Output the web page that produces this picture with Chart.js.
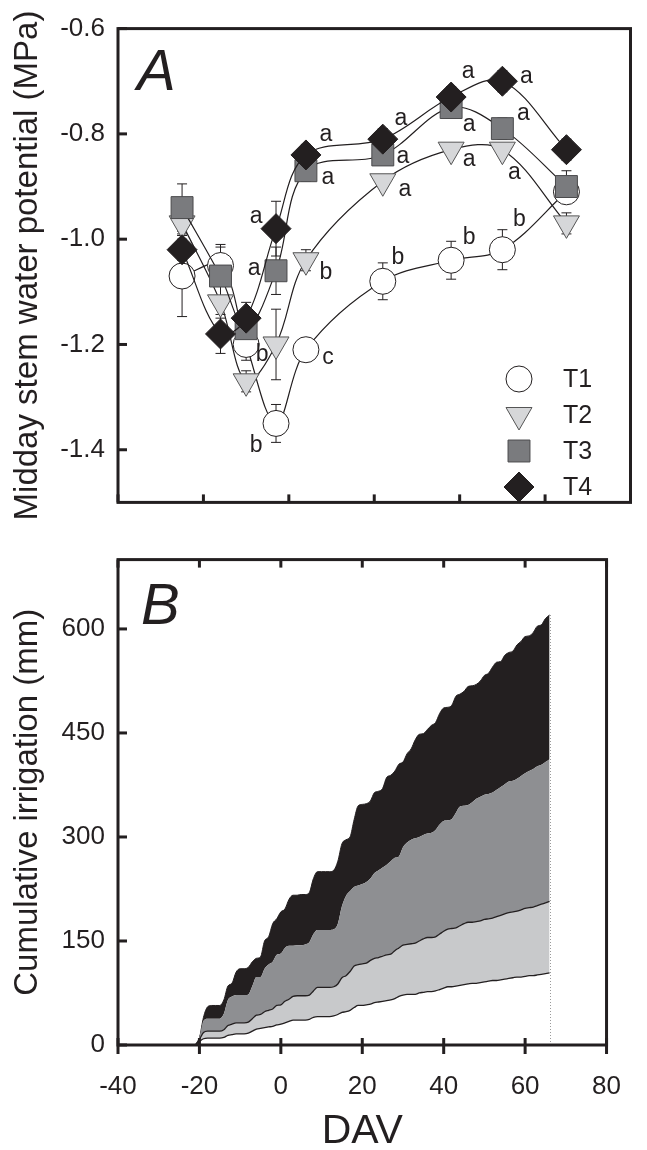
<!DOCTYPE html>
<html>
<head>
<meta charset="utf-8">
<script src="https://cdn.jsdelivr.net/npm/chart.js@4.4.1/dist/chart.umd.min.js"></script>
<style>
  html, body { margin: 0; padding: 0; background: #fff; }
  #wrap { position: relative; width: 647px; height: 1150px; }
  #boxA { position: absolute; left: 0; top: 0; width: 647px; height: 531px; }
  #boxB { position: absolute; left: 0; top: 531px; width: 647px; height: 619px; }
</style>
</head>
<body>
<div id="wrap">
  <div id="boxA"><canvas id="chartA"></canvas></div>
  <div id="boxB"><canvas id="chartB"></canvas></div>
</div>
<script>
// --- data, panel A: midday stem water potential (MPa) ---
const davA = [-25, -16, -10, -3, 4, 22, 38, 50, 65];
const swpT1 = [-1.07, -1.05, -1.20, -1.35, -1.21, -1.08, -1.04, -1.02, -0.91];
const swpT2 = [-0.97, -1.12, -1.27, -1.20, -1.04, -0.89, -0.83, -0.83, -0.97];
const swpT3 = [-0.94, -1.07, -1.17, -1.06, -0.87, -0.84, -0.75, -0.79, -0.90];
const swpT4 = [-1.02, -1.18, -1.15, -0.98, -0.84, -0.81, -0.73, -0.70, -0.83];
const errT1 = [0.077, 0.035, 0.03, 0.036, 0.01, 0.035, 0.036, 0.038, 0.02];
const errT2 = [0.02, 0.03, 0.02, 0.067, 0.02, 0.01, 0.01, 0.01, 0.02];
const errT3 = [0.045, 0.06, 0.02, 0.045, 0.02, 0.02, 0.02, 0.02, 0.03];
const errT4 = [0.02, 0.037, 0.03, 0.052, 0.02, 0.02, 0.02, 0.02, 0.02];
const letT1 = ['', '', 'b', 'b', 'c', 'b', 'b', 'b', ''];
const letT2 = ['', '', '', '', 'b', 'a', 'a', 'a', ''];
const letT3 = ['', '', '', 'a', 'a', 'a', 'a', 'a', ''];
const letT4 = ['', '', '', 'a', 'a', 'a', 'a', 'a', ''];

// --- data, panel B: cumulative irrigation (mm) ---
const davB = [-21, -20, -19, -18, -17, -16, -15, -14, -13, -12,
              -11, -10, -9, -8, -7, -6, -5, -4, -3, -2,
              -1, 0, 1, 2, 3, 4, 5, 6, 7, 8,
              9, 10, 11, 12, 13, 14, 15, 16, 17, 18,
              19, 20, 21, 22, 23, 24, 25, 26, 27, 28,
              29, 30, 31, 32, 33, 34, 35, 36, 37, 38,
              39, 40, 41, 42, 43, 44, 45, 46, 47, 48,
              49, 50, 51, 52, 53, 54, 55, 56, 57, 58,
              59, 60, 61, 62, 63, 64, 65, 66];
const irrT1 = [0, 5, 9, 10, 10, 10, 10, 11, 14, 15,
               16, 16, 16, 17, 20, 23, 24, 25, 26, 27,
               29, 30, 32, 34, 36, 36, 36, 36, 37, 40,
               41, 41, 41, 41, 42, 44, 47, 48, 50, 54,
               57, 57, 58, 59, 61, 62, 63, 64, 65, 67,
               70, 72, 73, 73, 73, 75, 76, 77, 77, 78,
               80, 82, 84, 84, 85, 86, 87, 88, 89, 89,
               90, 91, 92, 93, 93, 94, 95, 96, 97, 98,
               98, 99, 100, 100, 101, 102, 103, 104];
const irrT2 = [0, 8, 18, 20, 20, 20, 20, 22, 28, 30,
               32, 32, 32, 33, 38, 43, 44, 48, 50, 52,
               57, 58, 63, 66, 70, 71, 71, 71, 72, 78,
               83, 83, 83, 83, 84, 88, 97, 100, 106, 114,
               116, 117, 118, 122, 125, 126, 128, 130, 131, 136,
               140, 144, 145, 146, 147, 150, 153, 155, 155, 156,
               160, 164, 167, 168, 169, 172, 175, 177, 177, 178,
               179, 181, 182, 183, 185, 187, 189, 191, 192, 193,
               195, 197, 198, 199, 201, 203, 205, 207];
const irrT3 = [0, 12, 35, 38, 38, 38, 38, 45, 65, 70,
               72, 72, 72, 73, 85, 98, 98, 110, 116, 120,
               130, 132, 140, 143, 143, 144, 144, 145, 148, 160,
               166, 166, 166, 166, 167, 175, 200, 215, 222, 228,
               230, 232, 235, 240, 248, 252, 256, 260, 265, 270,
               272, 285, 292, 296, 298, 300, 303, 305, 306, 310,
               318, 323, 324, 326, 335, 344, 345, 346, 350, 355,
               358, 361, 362, 364, 368, 372, 376, 380, 381, 384,
               388, 392, 395, 398, 402, 404, 408, 412];
const irrT4 = [0, 10, 40, 55, 57, 57, 57, 65, 85, 89,
               105, 110, 110, 112, 120, 125, 127, 150, 156, 175,
               182, 192, 196, 210, 216, 216, 217, 217, 220, 240,
               250, 250, 250, 250, 252, 265, 290, 296, 300, 325,
               345, 347, 348, 352, 364, 366, 370, 386, 389, 395,
               405, 408, 420, 427, 440, 448, 449, 455, 461, 465,
               478, 486, 487, 490, 503, 506, 510, 517, 518, 520,
               525, 533, 536, 545, 552, 553, 562, 566, 568, 577,
               582, 589, 590, 595, 604, 606, 615, 620];

const xTicks = [-40, -20, 0, 20, 40, 60, 80];
const yTicksA = [-1.4, -1.2, -1.0, -0.8, -0.6];
const yTicksB = [0, 150, 300, 450, 600];

// --- styles ---
const INK = '#231f20';
const FONT = '"Liberation Sans", Arial, sans-serif';
Chart.defaults.font.family = FONT;
Chart.defaults.color = INK;

const seriesA = [
  { label: 'T1', y: swpT1, err: errT1, let: letT1, style: 'circle',   r: 13,   rot: 0,   fill: '#ffffff', stroke: INK },
  { label: 'T2', y: swpT2, err: errT2, let: letT2, style: 'triangle', r: 15,   rot: 180, fill: '#d6d7d9', stroke: '#555555' },
  { label: 'T3', y: swpT3, err: errT3, let: letT3, style: 'rect',     r: 15.5, rot: 0,   fill: '#7a7b7e', stroke: '#4a4a4c' },
  { label: 'T4', y: swpT4, err: errT4, let: letT4, style: 'rectRot',  r: 15,   rot: 0,   fill: INK,       stroke: INK }
];

// pixel nudges for the significance letters
const letterOffsets = {
  T1: [null, null, [16, 10], [-20, 22], [22, 8], [15, -24], [18, -23], [17, -30], null],
  T2: [null, null, null, null, [20, 12], [22, 8], [18, 10], [12, 23], null],
  T3: [null, null, null, [-22, -2], [22, 7], [20, 2], [18, 17], [21, -15], null],
  T4: [null, null, null, [-20, -12], [20, -20], [18, -20], [17, -25], [24, -5], null]
};

function markerPath(ctx, style, x, y, r, rot) {
  ctx.beginPath();
  if (style === 'circle') {
    ctx.arc(x, y, r, 0, Math.PI * 2);
  } else if (style === 'triangle') {
    let a = rot * Math.PI / 180;
    ctx.moveTo(x + Math.sin(a) * r, y - Math.cos(a) * r);
    a += Math.PI * 2 / 3;
    ctx.lineTo(x + Math.sin(a) * r, y - Math.cos(a) * r);
    a += Math.PI * 2 / 3;
    ctx.lineTo(x + Math.sin(a) * r, y - Math.cos(a) * r);
  } else if (style === 'rect') {
    const s = Math.SQRT1_2 * r;
    ctx.rect(x - s, y - s, 2 * s, 2 * s);
  } else {
    ctx.moveTo(x - r, y); ctx.lineTo(x, y - r); ctx.lineTo(x + r, y); ctx.lineTo(x, y + r);
  }
  ctx.closePath();
}

function line(ctx, x1, y1, x2, y2) {
  ctx.beginPath(); ctx.moveTo(x1, y1); ctx.lineTo(x2, y2); ctx.stroke();
}

// box frame + hand drawn ticks (inward on y, crossing on x)
const framePlugin = {
  id: 'frame',
  afterDraw(chart, args, opts) {
    const { ctx, chartArea: a, scales } = chart;
    ctx.save();
    ctx.strokeStyle = INK;
    ctx.lineWidth = 3;
    ctx.lineCap = 'butt';
    ctx.strokeRect(a.left, a.top, a.right - a.left, a.bottom - a.top);
    scales.y.ticks.forEach(t => {
      const y = scales.y.getPixelForValue(t.value);
      line(ctx, a.left, y, a.left + 9, y);
    });
    scales.x.ticks.forEach(t => {
      const x = scales.x.getPixelForValue(t.value);
      if (opts.bottomUp) line(ctx, x, a.bottom, x, a.bottom - 8);
      if (opts.topDown) line(ctx, x, a.top, x, a.top + 8);
      if (opts.bottomCross) line(ctx, x, a.bottom - 7, x, a.bottom + 9);
    });
    ctx.font = 'italic 58px ' + FONT;
    ctx.fillStyle = INK;
    ctx.textAlign = 'left';
    ctx.textBaseline = 'alphabetic';
    ctx.fillText(opts.panel, a.left + opts.panelDx, a.top + opts.panelDy);
    ctx.restore();
  }
};

const errorBarPlugin = {
  id: 'errorBars',
  beforeDatasetsDraw(chart) {
    const { ctx, scales: { x, y } } = chart;
    ctx.save();
    ctx.strokeStyle = INK;
    ctx.lineWidth = 1;
    seriesA.forEach(s => {
      davA.forEach((d, i) => {
        const px = x.getPixelForValue(d);
        const y1 = y.getPixelForValue(s.y[i] + s.err[i]);
        const y2 = y.getPixelForValue(s.y[i] - s.err[i]);
        line(ctx, px, y1, px, y2);
        line(ctx, px - 5, y1, px + 5, y1);
        line(ctx, px - 5, y2, px + 5, y2);
      });
    });
    ctx.restore();
  }
};

const lettersPlugin = {
  id: 'letters',
  afterDatasetsDraw(chart) {
    const { ctx, scales: { x, y } } = chart;
    ctx.save();
    ctx.fillStyle = INK;
    ctx.font = '23px ' + FONT;
    ctx.textAlign = 'center';
    ctx.textBaseline = 'middle';
    seriesA.forEach(s => {
      s.let.forEach((txt, i) => {
        const off = letterOffsets[s.label][i];
        if (!txt || !off) return;
        ctx.fillText(txt, x.getPixelForValue(davA[i]) + off[0], y.getPixelForValue(s.y[i]) + off[1]);
      });
    });
    // legend
    ctx.font = '25px ' + FONT;
    ctx.textAlign = 'left';
    seriesA.forEach((s, i) => {
      const ly = 379 + i * 36;
      markerPath(ctx, s.style, 519, ly, s.r, s.rot);
      ctx.fillStyle = s.fill; ctx.fill();
      ctx.strokeStyle = s.stroke; ctx.lineWidth = 1; ctx.stroke();
      ctx.fillStyle = INK;
      ctx.fillText(s.label, 563, ly + 1);
    });
    ctx.restore();
  }
};

const endLinePlugin = {
  id: 'endLine',
  afterDatasetsDraw(chart) {
    const { ctx, scales: { x, y } } = chart;
    const last = davB.length - 1;
    const px = Math.round(x.getPixelForValue(davB[last])) + 0.5;
    ctx.save();
    ctx.strokeStyle = '#9a9a9a';
    ctx.lineWidth = 1;
    ctx.setLineDash([1, 2]);
    line(ctx, px, y.getPixelForValue(0), px, y.getPixelForValue(irrT4[last]));
    ctx.restore();
  }
};

function yAxis(min, max, ticks, title, fmt) {
  return {
    type: 'linear', min: min, max: max,
    afterBuildTicks: s => { s.ticks = ticks.map(v => ({ value: v })); },
    afterFit: s => { s.width = 118; },
    grid: { display: false, drawTicks: false },
    border: { display: false },
    ticks: { padding: 13, font: { size: 26 }, color: INK, callback: fmt },
    title: { display: true, text: title, font: { size: 33 }, color: INK, padding: { top: 8, bottom: 0 } }
  };
}

const baseOpts = {
  responsive: true,
  maintainAspectRatio: false,
  animation: false,
  devicePixelRatio: 1,
  plugins: { legend: { display: false }, tooltip: { enabled: false } }
};

// Chart.js adds label overhang on top of layout padding; nudge the padding
// (the config object itself) so the plot box lands where the reference has it
function pinArea(chart, pad, want) {
  const a = chart.chartArea;
  pad.top += want.top - a.top;
  pad.left += want.left - a.left;
  pad.right += a.right - want.right;
  pad.bottom += a.bottom - want.bottom;
  chart.update();
}

// --- panel A ---
const padA = { left: 0, top: 22, right: 16, bottom: 0 };
const chartA = new Chart(document.getElementById('chartA'), {
  type: 'line',
  data: {
    datasets: seriesA.map((s, k) => ({
      label: s.label,
      data: davA.map((d, i) => ({ x: d, y: s.y[i] })),
      borderColor: INK,
      borderWidth: 1.2,
      tension: 0.35,
      fill: false,
      pointStyle: s.style,
      pointRotation: s.rot,
      pointRadius: s.r,
      pointBackgroundColor: s.fill,
      pointBorderColor: s.stroke,
      pointBorderWidth: 1,
      order: 4 - k
    }))
  },
  options: Object.assign({}, baseOpts, {
    layout: { padding: padA },
    scales: {
      x: {
        type: 'linear', min: -40, max: 80,
        afterBuildTicks: s => { s.ticks = xTicks.map(v => ({ value: v })); },
        afterFit: s => { s.height = 0; },
        grid: { display: false, drawTicks: false },
        border: { display: false },
        ticks: { display: false }
      },
      y: yAxis(-1.5, -0.6, yTicksA, 'Midday stem water potential (MPa)', v => v.toFixed(1))
    },
    plugins: Object.assign({}, baseOpts.plugins, {
      frame: { bottomUp: true, panel: 'A', panelDx: 19, panelDy: 61 }
    })
  }),
  plugins: [errorBarPlugin, lettersPlugin, framePlugin]
});
pinArea(chartA, padA, { left: 118, top: 22, right: 631, bottom: 531 });

// --- panel B ---
const seriesB = [
  { label: 'T1', y: irrT1, line: INK, lw: 1.3, fill: false },
  { label: 'T2', y: irrT2, line: INK, lw: 1.3, fill: '#c8c9cb' },
  { label: 'T3', y: irrT3, line: '#8e8f92', lw: 0, fill: '#8e8f92' },
  { label: 'T4', y: irrT4, line: INK, lw: 1, fill: INK }
];

const padB = { left: 0, top: 0, right: 16, bottom: 0 };
const chartB = new Chart(document.getElementById('chartB'), {
  type: 'line',
  data: {
    datasets: seriesB.map(s => ({
      label: s.label,
      data: davB.map((d, i) => ({ x: d, y: s.y[i] })),
      borderColor: s.line,
      borderWidth: s.lw,
      backgroundColor: s.fill || 'transparent',
      fill: s.fill ? '-1' : false,
      cubicInterpolationMode: 'monotone',
      pointRadius: 0
    }))
  },
  options: Object.assign({}, baseOpts, {
    layout: { padding: padB },
    scales: {
      x: {
        type: 'linear', min: -40, max: 80,
        afterBuildTicks: s => { s.ticks = xTicks.map(v => ({ value: v })); },
        afterFit: s => { s.height = 105; },
        grid: { display: false, drawTicks: false },
        border: { display: false },
        ticks: { padding: 26, font: { size: 26 }, color: INK, callback: v => String(v) },
        title: { display: true, text: 'DAV', font: { size: 41, lineHeight: 0.9 }, color: INK, padding: { top: 0, bottom: 0 } }
      },
      y: yAxis(0, 700, yTicksB, 'Cumulative irrigation (mm)', v => String(v))
    },
    plugins: Object.assign({}, baseOpts.plugins, {
      frame: { topDown: true, bottomCross: true, panel: 'B', panelDx: 23, panelDy: 64 }
    })
  }),
  plugins: [endLinePlugin, framePlugin]
});
pinArea(chartB, padB, { left: 118, top: 0, right: 631, bottom: 514 });
</script>
</body>
</html>
